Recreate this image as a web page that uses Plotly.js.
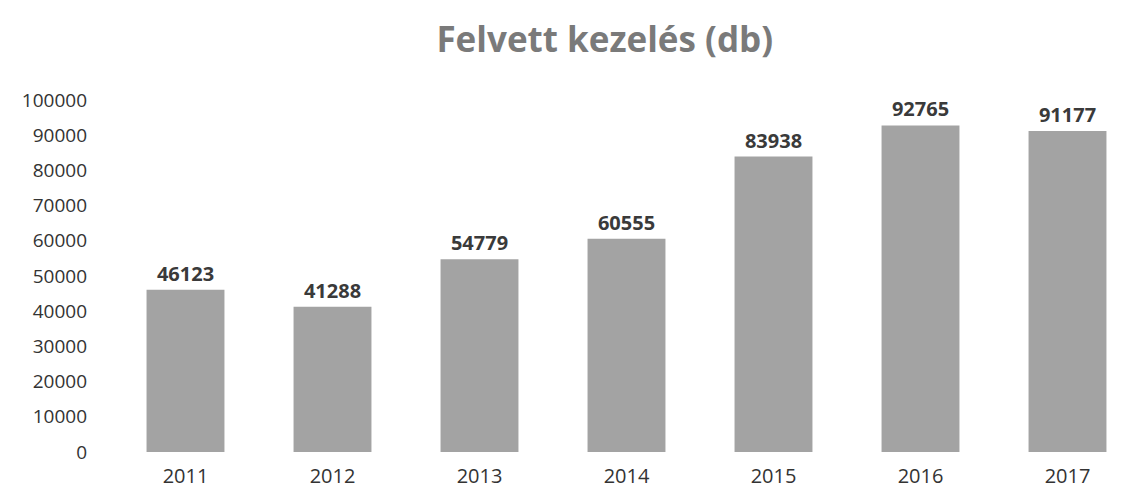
<!DOCTYPE html>
<html>
<head>
<meta charset="utf-8">
<script src="https://cdn.plot.ly/plotly-3.0.1.min.js"></script>
<style>html,body{margin:0;padding:0;background:#fff;}#chart{width:1141px;height:495px;}</style>
</head>
<body>
<div id="chart"></div>
<script>
const years = ["2011","2012","2013","2014","2015","2016","2017"];
const values = [46123, 41288, 54779, 60555, 83938, 92765, 91177];
const yTicks = [0,10000,20000,30000,40000,50000,60000,70000,80000,90000,100000];

const trace = {
  type: 'bar',
  x: years,
  y: values,
  text: values.map(String),
  textposition: 'outside',
  cliponaxis: false,
  textfont: {family: 'Open Sans, sans-serif', size: 20, color: '#3a3a3a', weight: 'bold'},
  marker: {color: '#a3a3a3', line: {width: 0}},
  hoverinfo: 'x+y'
};

const layout = {
  width: 1141, height: 495,
  margin: {l: 112, r: 0, t: 100, b: 43},
  paper_bgcolor: '#ffffff', plot_bgcolor: '#ffffff',
  title: {text: '<b>Felvett kezelés (db)</b>', x: 0.53, xanchor: 'center', y: 0.92, yanchor: 'middle',
          font: {family: 'Open Sans, sans-serif', size: 35, color: '#7a7a7a'}},
  bargap: 0.47,
  showlegend: false,
  xaxis: {type: 'category', showgrid: false, zeroline: false, showline: false, ticks: '',
          tickfont: {family: 'Open Sans, sans-serif', size: 20, color: '#333'}, ticklabelstandoff: 10},
  yaxis: {range: [0, 100000], tickvals: yTicks, ticktext: yTicks.map(String), showgrid: false,
          zeroline: false, showline: false, ticks: '', ticklabelstandoff: 24,
          tickfont: {family: 'Open Sans, sans-serif', size: 19, color: '#333'}}
};

Plotly.newPlot('chart', [trace], layout, {displayModeBar: false, staticPlot: true});
</script>
</body>
</html>
